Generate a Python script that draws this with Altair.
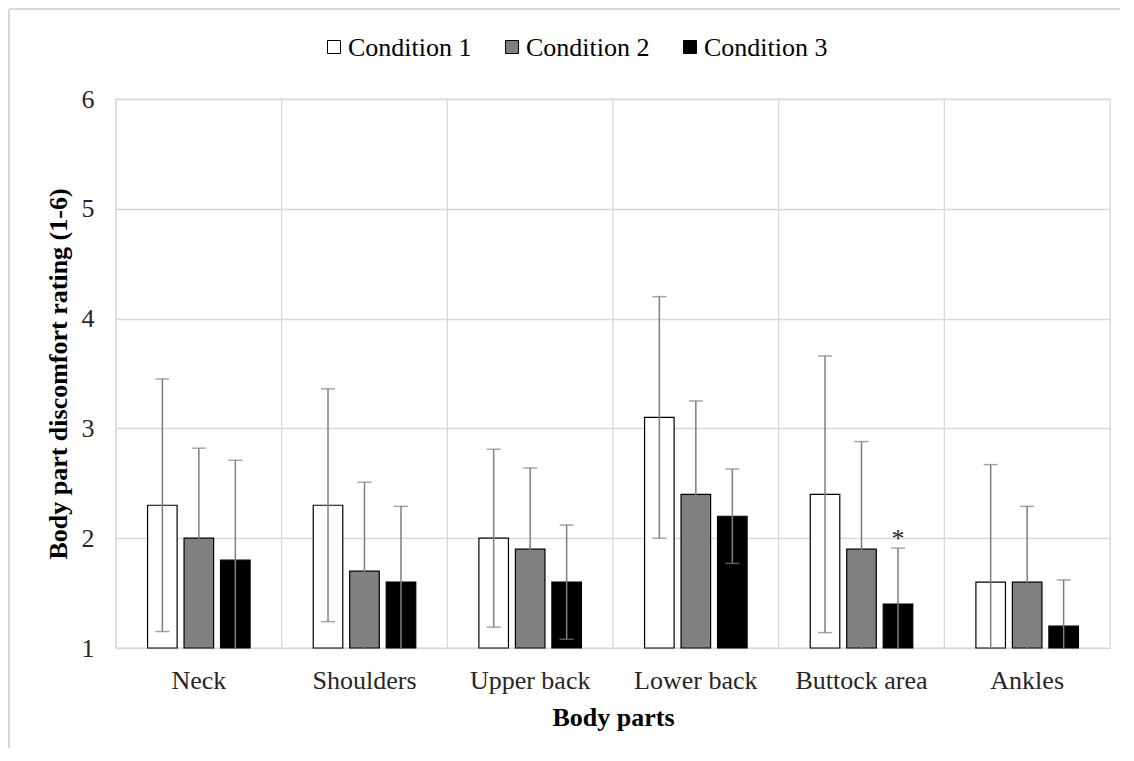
import altair as alt
import pandas as pd

body_parts = ["Neck", "Shoulders", "Upper back", "Lower back", "Buttock area", "Ankles"]
conditions = ["Condition 1", "Condition 2", "Condition 3"]
condition_colors = ["#ffffff", "#808080", "#000000"]

mean_c1 = [2.3, 2.3, 2.0, 3.1, 2.4, 1.6]
mean_c2 = [2.0, 1.7, 1.9, 2.4, 1.9, 1.6]
mean_c3 = [1.8, 1.6, 1.6, 2.2, 1.4, 1.2]

sd_c1 = [1.15, 1.06, 0.81, 1.10, 1.26, 1.07]
sd_c2 = [0.82, 0.81, 0.74, 0.85, 0.98, 0.69]
sd_c3 = [0.91, 0.69, 0.52, 0.43, 0.51, 0.42]

sig_c1 = ["", "", "", "", "", ""]
sig_c2 = ["", "", "", "", "", ""]
sig_c3 = ["", "", "", "", "*", ""]

y_ticks = [1, 2, 3, 4, 5, 6]

rows = []
for cond, means, sds, sigs in zip(conditions, [mean_c1, mean_c2, mean_c3],
                                  [sd_c1, sd_c2, sd_c3], [sig_c1, sig_c2, sig_c3]):
    for part, m, s, g in zip(body_parts, means, sds, sigs):
        rows.append({"part": part, "cond": cond, "mean": m,
                     "low": m - s, "high": m + s, "sig": g})
df = pd.DataFrame(rows)
parts_df = pd.DataFrame({"part": body_parts})
cond_df = pd.DataFrame({"cond": conditions})

FONT = "Liberation Serif"
GRID = "#d9d9d9"
ERR = "#7f7f7f"

xscale = alt.Scale(domain=body_parts, paddingInner=0, paddingOuter=0)
xaxis = alt.Axis(title="Body parts", labelFontSize=26, labelAngle=0, labelColor="#262626",
                 labelFont=FONT, titleFont=FONT,
                 ticks=False, tickSize=0, domain=False, grid=False, labelPadding=19,
                 titleFontSize=26, titleFontWeight="bold", titleColor="#000000",
                 titlePadding=11)
X = alt.X("part:N", sort=body_parts, scale=xscale, axis=xaxis)
XO = alt.XOffset("cond:N", sort=conditions,
                 scale=alt.Scale(domain=conditions, paddingInner=0.19, paddingOuter=0.865))
yscale = alt.Scale(domain=[1, 6], zero=False, nice=False)
yaxis = alt.Axis(title="Body part discomfort rating (1-6)", values=y_ticks, format="d",
                 grid=True, gridColor=GRID, gridWidth=1.3, domain=False, ticks=False,
                 tickSize=0, labelFontSize=26, labelPadding=22, labelColor="#262626",
                 labelFont=FONT, titleFont=FONT,
                 titleFontSize=26, titleFontWeight="bold", titleColor="#000000",
                 titlePadding=10)
fill_scale = alt.Scale(domain=conditions, range=condition_colors)

vgrid = alt.Chart(parts_df).mark_rule(color=GRID, strokeWidth=1.3).encode(
    x=alt.X("part:N", sort=body_parts, scale=xscale, axis=xaxis, bandPosition=0)
)

bars = alt.Chart(df).mark_bar(stroke="#000000", strokeWidth=1.2).encode(
    x=X,
    xOffset=XO,
    y=alt.Y("mean:Q", scale=yscale, axis=yaxis),
    y2=alt.datum(1),
    fill=alt.Fill("cond:N", sort=conditions, scale=fill_scale, legend=None),
)

err = alt.Chart(df).mark_rule(color=ERR, strokeWidth=1.5, clip=True).encode(
    x=X, xOffset=XO, y=alt.Y("low:Q", scale=yscale), y2="high:Q"
)

caps = alt.Chart(df).transform_fold(["low", "high"], as_=["end", "val"]).mark_tick(
    color=ERR, thickness=1.5, size=14, clip=True
).encode(x=X, xOffset=XO, y=alt.Y("val:Q", scale=yscale))

stars = alt.Chart(df).transform_filter("datum.sig != ''").mark_text(
    fontSize=26, baseline="alphabetic", dy=-1, color="#262626", font=FONT
).encode(x=X, xOffset=XO, y=alt.Y("high:Q", scale=yscale), text="sig:N")

main = alt.layer(vgrid, bars, err, caps, stars)

# legend drawn as marks along its own point scale
leg_x = alt.X("cond:N", sort=conditions, axis=None,
              scale=alt.Scale(type="point", domain=conditions, padding=0, range=[218, 574]))
leg_sym = alt.Chart(cond_df).mark_square(size=169, stroke="#000000", strokeWidth=1,
                                         opacity=1).encode(
    x=leg_x, y=alt.value(-52),
    fill=alt.Fill("cond:N", sort=conditions, scale=fill_scale, legend=None),
)
leg_txt = alt.Chart(cond_df).mark_text(align="left", baseline="middle", dx=14, dy=1,
                                       fontSize=26, font=FONT, color="#000000").encode(
    x=leg_x, y=alt.value(-52), text="cond:N"
)
legend = alt.layer(leg_sym, leg_txt)

frame_top = alt.Chart(parts_df).mark_rule(color=GRID, strokeWidth=2).encode(
    x=alt.value(-107), x2=alt.value(1010), y=alt.value(-90)
)
frame_left = alt.Chart(parts_df).mark_rule(color=GRID, strokeWidth=2).encode(
    x=alt.value(-107), y=alt.value(-90), y2=alt.value(649)
)

chart = alt.layer(main, legend, frame_top, frame_left).resolve_scale(
    x="independent"
).properties(
    width=994, height=549,
    autosize=alt.AutoSizeParams(type="none"),
    padding={"left": 108, "top": 91, "right": 10, "bottom": 100},
).configure(font=FONT).configure_view(stroke=GRID, strokeWidth=1.3
).configure_axis(labelFont=FONT, titleFont=FONT).configure_text(font=FONT)

chart.save("out.html", embed_options={"renderer": "svg", "actions": False})
